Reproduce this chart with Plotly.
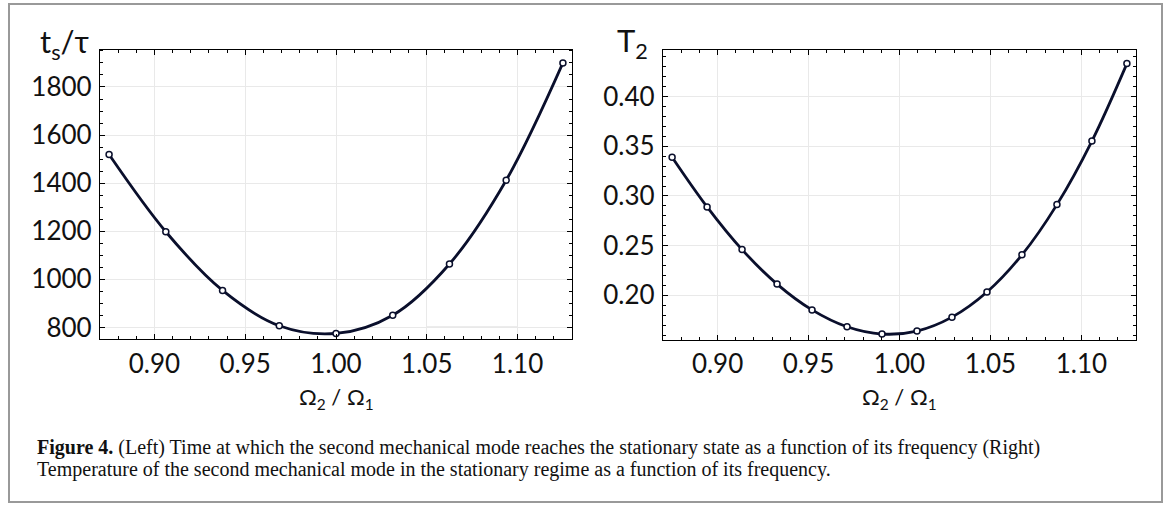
import plotly.graph_objects as go

# left panel: settling time t_s/tau vs frequency ratio
ratio_left = [0.875, 0.90625, 0.9375, 0.96875, 1.0, 1.03125, 1.0625, 1.09375, 1.125]
ts_tau = [1519, 1198, 954, 807, 775, 851, 1064, 1412, 1900]

# right panel: stationary temperature T2 vs frequency ratio
ratio_right = [0.875, 0.89423, 0.91346, 0.93269, 0.95192, 0.97115, 0.99038,
               1.00962, 1.02885, 1.04808, 1.06731, 1.08654, 1.10577, 1.125]
temp_T2 = [0.339, 0.289, 0.246, 0.2113, 0.1853, 0.1683, 0.161,
           0.164, 0.178, 0.2033, 0.2407, 0.2913, 0.3553, 0.4333]

x_ticks = [0.90, 0.95, 1.00, 1.05, 1.10]
left_ticks = [800, 1000, 1200, 1400, 1600, 1800]
right_ticks = [0.20, 0.25, 0.30, 0.35, 0.40]

W, H = 1168, 508
LINE = "#0a0f2c"
FONT = "Lato"


def px(x):
    return x / W


def py(y):
    return 1 - y / H


fig = go.Figure()
for xs, ys, xa, ya in ((ratio_left, ts_tau, "x", "y"),
                       (ratio_right, temp_T2, "x2", "y2")):
    fig.add_trace(go.Scatter(
        x=xs, y=ys, xaxis=xa, yaxis=ya, mode="lines+markers",
        line=dict(color=LINE, width=2.8, shape="spline", smoothing=1.0),
        marker=dict(size=6, color="white", line=dict(color=LINE, width=1.5)),
        showlegend=False, cliponaxis=False))

tick_font = dict(family=FONT, size=26, color="#111")
common_x = dict(range=[0.87, 1.13], tickvals=x_ticks, tickformat=".2f",
                ticks="inside", ticklen=5, tickwidth=1, tickcolor="black",
                minor=dict(dtick=0.01, ticks="inside", ticklen=3,
                           tickcolor="black", showgrid=False),
                showline=True, linecolor="black", linewidth=1.3, mirror="ticks",
                showgrid=True, gridcolor="#e9e9e9", zeroline=False,
                tickfont=tick_font, ticklabelstandoff=1)
common_y = dict(ticks="inside", ticklen=5, tickwidth=1, tickcolor="black",
                showline=True, linecolor="black", linewidth=1.3, mirror="ticks",
                showgrid=True, gridcolor="#e9e9e9", zeroline=False,
                tickfont=tick_font, ticklabelstandoff=2)

fig.update_layout(
    width=W, height=H, margin=dict(l=0, r=0, t=0, b=0),
    paper_bgcolor="white", plot_bgcolor="white",
    xaxis=dict(domain=[px(100), px(572)], anchor="y", **common_x),
    xaxis2=dict(domain=[px(663), px(1136)], anchor="y2", **common_x),
    yaxis=dict(domain=[py(341.5), py(50)], anchor="x", range=[750, 1955],
               tickvals=left_ticks,
               minor=dict(dtick=50, ticks="inside", ticklen=3,
                          tickcolor="black", showgrid=False),
               **common_y),
    yaxis2=dict(domain=[py(342), py(50)], anchor="x2", range=[0.155, 0.4473],
                tickvals=right_ticks, tickformat=".2f",
                minor=dict(dtick=0.01, ticks="inside", ticklen=3,
                           tickcolor="black", showgrid=False),
                **common_y),
)

# odd darker grid segment seen in the left panel
fig.add_shape(type="line", xref="x", yref="y", x0=1.05, x1=1.10, y0=800, y1=800,
              line=dict(color="#b5b5b5", width=1.2), layer="below")

# axis labels (Mathematica style: y label above the frame, x label below)
lab = dict(showarrow=False, font=dict(family=FONT, size=31, color="#111"))
fig.add_annotation(text="t<sub>s</sub>/τ", xref="paper", yref="paper",
                   x=px(91), y=py(44), xanchor="right", yanchor="middle", **lab)
fig.add_annotation(text="T<sub>2</sub>", xref="paper", yref="paper",
                   x=px(650), y=py(43), xanchor="right", yanchor="middle", **lab)
xlab = dict(showarrow=False, font=dict(family=FONT, size=22, color="#111"))
for cx in (336, 899):
    fig.add_annotation(text="Ω<sub>2</sub> / Ω<sub>1</sub>", xref="paper", yref="paper",
                       x=px(cx), y=py(400), xanchor="center",
                       yanchor="middle", **xlab)

# caption
cap = dict(showarrow=False, xref="paper", yref="paper", xanchor="left",
           yanchor="middle", font=dict(family="Liberation Serif", size=20, color="#111"))
fig.add_annotation(text="<b>Figure 4.</b> (Left) Time at which the second mechanical mode "
                        "reaches the stationary state as a function of its frequency (Right)",
                   x=px(35), y=py(450), **cap)
fig.add_annotation(text="Temperature of the second mechanical mode in the stationary regime "
                        "as a function of its frequency.",
                   x=px(35), y=py(472), **cap)

# outer figure frame
fig.add_shape(type="rect", xref="paper", yref="paper", x0=px(9), x1=px(1162),
              y0=py(505), y1=py(4), line=dict(color="#999999", width=2))

fig.write_html("out.html", config={"displayModeBar": False},
               post_script="document.body.style.margin='0px';")
